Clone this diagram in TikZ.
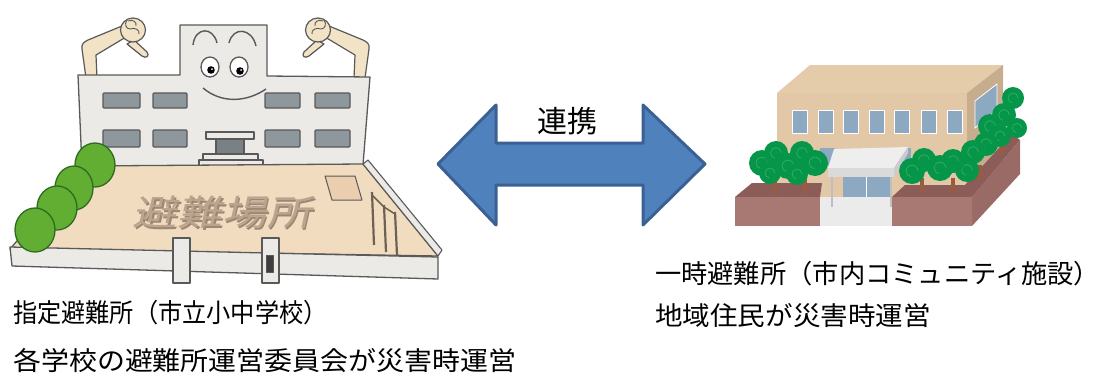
\documentclass[tikz,border=0pt]{standalone}
\usepackage{fontspec}
\newfontfamily\jp{Noto Sans CJK JP}
% school colours
\definecolor{schoolline}{HTML}{595959}
\definecolor{wallgray}{HTML}{ECEAE6}
\definecolor{wingray}{HTML}{8E989C}
\definecolor{groundtan}{HTML}{F1DCC0}
\definecolor{bushgreen}{HTML}{62AE33}
\definecolor{bushline}{HTML}{2E6B1F}
\definecolor{skin}{HTML}{F2E2C6}
\definecolor{groundtext}{HTML}{BCA38E}
\definecolor{groundshade}{HTML}{9C8774}
% community building colours
\definecolor{bldfront}{HTML}{E2C8A6}
\definecolor{bldtop}{HTML}{E4CBAA}
\definecolor{bldside}{HTML}{C5AD8E}
\definecolor{glass}{HTML}{8CA9C1}
\definecolor{planterfront}{HTML}{A87973}
\definecolor{planterside}{HTML}{9A6A66}
\definecolor{plantertop}{HTML}{8C5C58}
\definecolor{treegreen}{HTML}{05964A}
\definecolor{treeswirl}{HTML}{35AE66}
\definecolor{trunk}{HTML}{9B5B3E}
\definecolor{canopytop}{HTML}{EEEEEE}
\definecolor{canopyfront}{HTML}{DADADA}
\definecolor{pathgray}{HTML}{EBEBEB}
\definecolor{postgray}{HTML}{BFBFBF}
% arrow colours
\definecolor{arrowfill}{HTML}{4F81BD}
\definecolor{arrowline}{HTML}{3B6194}

% a round tree crown with a light swirl
\newcommand{\greenball}[3]{%
  \fill[treegreen] (#1,#2) circle (#3pt);
  \draw[treeswirl, line width=0.7pt] (#1+0.45*#3,#2) arc[start angle=0, end angle=260, radius=#3*0.45pt];
}
% one arm of the school, raised with the thumb down
\newcommand{\schoolarm}{%
  \path[skinpart] (86,78) -- (82,49) .. controls (81,44) and (84,42) .. (88,40)
    -- (122,26) -- (126,37) -- (96,55) -- (97,78) -- cycle;
  \path[skinpart] (134,40) -- (147,52) .. controls (150,56) and (146,59) .. (142,56) -- (127,44) -- cycle;
  \path[skinpart] (133,30) ellipse (12.5pt and 12pt);
  \draw[schoolline, line width=0.9pt] (128,21) .. controls (133,19) and (137,22) .. (136,26)
    (130,29) .. controls (135,27) and (140,30) .. (139,34)
    (127,20) .. controls (124,24) and (126,29) .. (130,29);
}

\begin{document}
\begin{tikzpicture}[x=1pt, y=-1pt,
  outline/.style={draw=schoolline, line width=1.3pt, line join=round},
  skinpart/.style={outline, fill=skin, line width=1.2pt},
  winbox/.style={fill=wingray, draw=schoolline, line width=1.2pt, rounded corners=1pt},
  bush/.style={fill=bushgreen, draw=bushline, line width=1.3pt},
  caption/.style={anchor=west, inner sep=0pt, font=\jp\fontsize{26}{30}\selectfont},
  postline/.style={draw=postgray, line width=2pt},
  trunkline/.style={draw=trunk, line width=4pt}]
\useasboundingbox (0,0) rectangle (1116,378);

% ---------------- school (designated shelter) ----------------
% arms behind the building
\schoolarm
\begin{scope}[shift={(451,0)}, xscale=-1]
  \schoolarm
\end{scope}

% building body with the central tower
\path[outline, fill=wallgray] (78,75) -- (180,75) -- (180,25) -- (267,25) -- (267,76)
  -- (370,77) -- (363,165) -- (82,167) -- cycle;

% windows
\foreach \wx/\ww in {103/37, 153/34, 265/35, 315/35} {
  \path[winbox] (\wx,93) rectangle ++(\ww,15);
  \path[winbox] (\wx,130) rectangle ++(\ww,17);
}

% entrance
\path[outline, fill=wallgray] (206,132) rectangle (254,139);
\path[outline, fill=wingray!85!black] (216,139) rectangle (244,154);
\path[outline, fill=wallgray] (203,154) rectangle (258,160);
\path[outline, fill=wallgray] (199,160) rectangle (263,168);

% face
\draw[schoolline, line width=1.4pt] (193,45) .. controls (195,27) and (213,26) .. (217,43);
\draw[schoolline, line width=1.4pt] (229,43) .. controls (233,26) and (252,28) .. (256,46);
\path[outline, fill=white] (210,67) ellipse (9pt and 10pt);
\path[outline, fill=white] (239,67) ellipse (9pt and 10pt);
\fill[black] (211,70) circle (3.8pt);
\fill[black] (240,71) circle (3.8pt);
\fill[white] (212,69) circle (1pt);
\fill[white] (241,70) circle (1pt);
\draw[schoolline, line width=1.4pt] (203,88) .. controls (222,104) and (247,102) .. (266,89);

% schoolyard
\path[outline, fill=groundtan] (82,166) -- (363,164) -- (438,256) -- (10,249) -- cycle;
% sandpit
\path[outline, fill=groundtan!85!brown, line width=1pt] (325,176) -- (355,176) -- (362,200) -- (332,200) -- cycle;
% horizontal bars
\draw[schoolline!80!brown, line width=2.2pt] (372,192) -- (374,245) (384,205) -- (386,252) (395,212) -- (397,255);
\draw[schoolline!80!brown, line width=1.5pt] (372,195) -- (384,207) -- (395,214);
% side wall
\path[outline, fill=wallgray, line width=1.1pt] (363,164) -- (368,160) -- (442,250) -- (438,256) -- cycle;

% lettering painted on the ground (the slant moves x by 0.22 * canvas y)
\begin{scope}[xslant=0.22]
  \node[inner sep=0pt, text=groundshade, transform shape] (groundshadow) at (274,214)
    {\scalebox{1.12}[0.88]{\jp\fontsize{40}{40}\selectfont 避難場所}};
  \node[inner sep=0pt, text=groundtext, transform shape] (groundword) at (272,212)
    {\scalebox{1.12}[0.88]{\jp\fontsize{40}{40}\selectfont 避難場所}};
\end{scope}

% front wall and gate posts
\path[outline, fill=wallgray] (10,247) -- (438,257) -- (438,279) -- (12,266) -- cycle;
\path[outline, fill=wallgray] (173,238) rectangle (190,283);
\path[outline, fill=wallgray] (262,238) rectangle (279,283);
\path[outline, fill=schoolline!70!black, line width=0.8pt] (266,255) rectangle (273,272);

% bushes
\path[bush] (95,165) ellipse (20pt and 22pt);
\path[bush] (74,188) ellipse (19pt and 22pt);
\path[bush] (57,208) ellipse (20pt and 22pt);
\path[bush] (35,230) ellipse (20pt and 22pt);

% ---------------- linking arrow ----------------
\path[fill=arrowfill, draw=arrowline, line width=3pt, line join=round]
  (438,164) -- (496,105) -- (496,143) -- (643,143) -- (643,105) -- (705,164)
  -- (643,225) -- (643,185) -- (496,185) -- (496,225) -- cycle;
\node[inner sep=0pt, font=\jp\fontsize{30}{30}\selectfont] (link) at (567,121) {連携};

% ---------------- community facility (temporary shelter) ----------------
% building box
\path[fill=bldtop] (777,93) -- (810,65) -- (1003,65) -- (967,93) -- cycle;
\path[fill=bldfront] (777,93) rectangle (967,198);
\path[fill=bldside] (967,93) -- (1003,65) -- (1003,172) -- (967,200) -- cycle;
\path[fill=glass, draw=white, line width=0.8pt] (975,101) -- (997,84) -- (997,110) -- (975,128) -- cycle;
% upper windows
\foreach \wx in {792, 818, 843, 869, 894, 921, 947} {
  \path[fill=glass, draw=white, line width=0.6pt] (\wx,110) rectangle ++(15,23);
}
% lower windows
\path[fill=glass] (820,148) rectangle (835,166);
\path[fill=glass] (896,148) rectangle (911,166);

% entrance path, door and canopy
\path[fill=pathgray] (820,197) rectangle (894,226);
\path[fill=glass] (843,177) rectangle (890,197);
\draw[white, line width=0.8pt] (866,177) -- (866,197);
\draw[postline] (832,176) -- (832,207);
\draw[postline] (891,176) -- (891,207);
\path[fill=canopytop] (834,149) -- (908,147) -- (894,168) -- (828,168) -- cycle;
\path[fill=canopyfront] (828,168) rectangle (894,177);
\path[fill=postgray!80] (894,168) -- (908,147) -- (908,153) -- (894,177) -- cycle;

% left planter
\path[fill=plantertop] (735,197) -- (752,183) -- (822,183) -- (820,197) -- cycle;
\path[fill=planterfront] (735,197) rectangle (820,226);
\draw[trunkline] (775,172) -- (775,194);
\draw[trunkline] (805,172) -- (805,194);
\greenball{762}{163}{13}
\greenball{776}{153}{12}
\greenball{802}{153}{12}
\greenball{770}{173}{11}
\greenball{788}{166}{13}
\greenball{797}{174}{11}
\greenball{815}{163}{13}

% right planter
\path[fill=plantertop] (892,197) -- (905,185) -- (965,185) -- (1012,134) -- (1020,140) -- (972,197) -- cycle;
\path[fill=planterfront] (892,197) rectangle (972,226);
\path[fill=planterside] (972,197) -- (1020,140) -- (1020,174) -- (972,226) -- cycle;
\draw[trunkline] (922,178) -- (922,192);
\draw[trunkline] (953,178) -- (953,192);
\draw[trunkline] (980,165) -- (980,180);
\draw[trunkline] (1002,140) -- (1002,155);
\greenball{1013}{98}{11}
\greenball{1004}{115}{12}
\greenball{1017}{128}{10}
\greenball{990}{126}{12}
\greenball{1000}{136}{11}
\greenball{986}{144}{12}
\greenball{973}{152}{12}
\greenball{967}{170}{12}
\greenball{953}{161}{12}
\greenball{940}{168}{13}
\greenball{924}{160}{12}
\greenball{912}{171}{13}

% ---------------- captions ----------------
\node[caption] (capA1) at (13,313) {\scalebox{0.93}[1]{指定避難所（市立小中学校）}};
\node[caption] (capA2) at (13,361) {\scalebox{1.075}[1]{各学校の避難所運営委員会が災害時運営}};
\node[caption] (capB1) at (655,274) {\scalebox{1.01}[1]{一時避難所（市内コミュニティ施設）}};
\node[caption] (capB2) at (655,316) {\scalebox{1.06}[1]{地域住民が災害時運営}};
\end{tikzpicture}
\end{document}
